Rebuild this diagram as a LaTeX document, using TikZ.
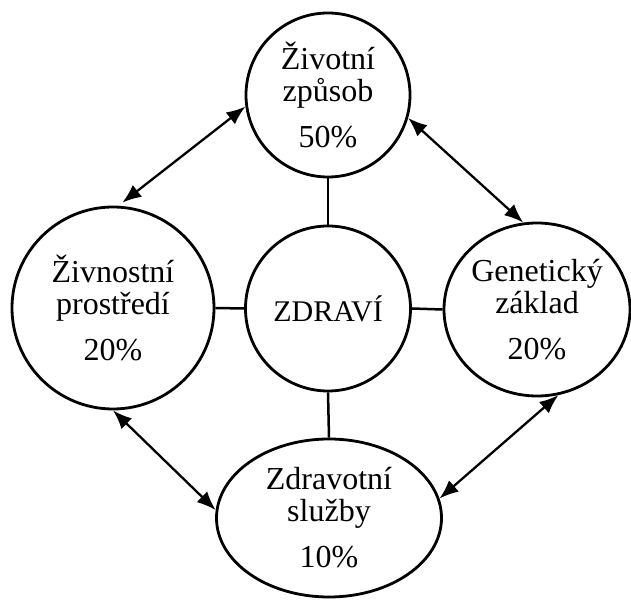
\documentclass[tikz,border=0pt]{standalone}
\usepackage{fontspec}
\setmainfont{Liberation Serif}
\usetikzlibrary{shapes.geometric,arrows.meta}
\tikzset{
  bubble/.style={ellipse, draw=black, line width=2.8pt, inner sep=0pt, align=center,
    font=\fontsize{32}{32}\selectfont},
  link/.style={draw=black, line width=2.5pt},
  dbl/.style={draw=black, line width=2.3pt,
    {Latex[length=19pt,width=15pt]}-{Latex[length=19pt,width=15pt]}}
}
\begin{document}
\begin{tikzpicture}[x=1pt,y=1pt]
\useasboundingbox (0,0) rectangle (631,599);
\node[bubble, minimum width=164pt, minimum height=164pt] (T) at (328,504) {Životní\\způsob\\[14pt]50\%};
\node[bubble, minimum width=165pt, minimum height=165pt, font=\fontsize{30}{32}\selectfont] (C) at (328,290.5) {ZDRAVÍ};
\node[bubble, minimum width=202pt, minimum height=202pt] (L) at (113,291) {Živnostní\\prostředí\\[14pt]20\%};
\node[bubble, minimum width=186pt, minimum height=173pt] (R) at (537,289.5) {Genetický\\základ\\[14pt]20\%};
\node[bubble, minimum width=225pt, minimum height=158pt] (B) at (329,81) {Zdravotní\\služby\\[14pt]10\%};
\draw[link] (T.south) -- (C.north);
\draw[link] (C.south) -- (B.north);
\draw[link] (C.west) -- (L.east);
\draw[link] (C.east) -- (R.west);
\draw[dbl, shorten <=5pt] (L.87) -- (T.188);
\draw[dbl] (T.-16) -- (R.99);
\draw[dbl] (L.270) -- (B.176);
\draw[dbl] (R.284) -- (B.10);
\end{tikzpicture}
\end{document}
